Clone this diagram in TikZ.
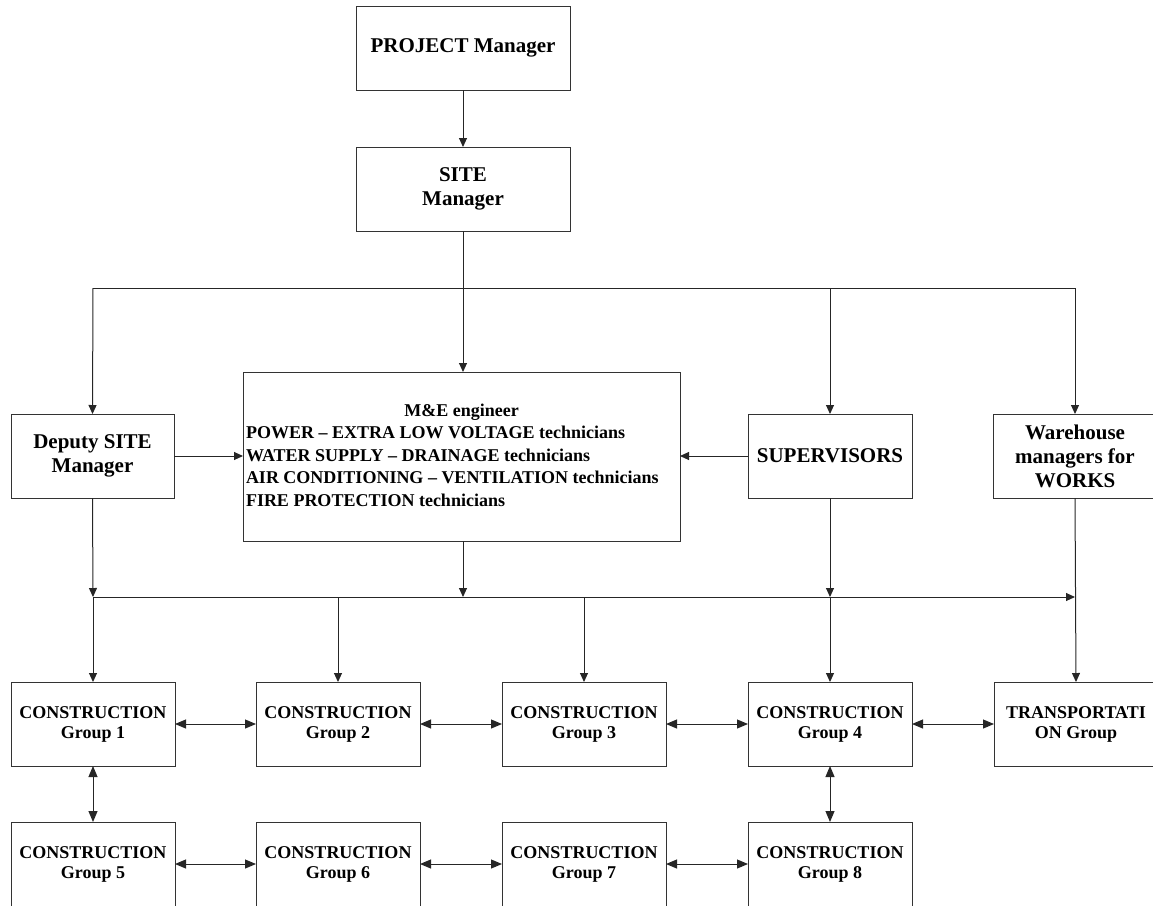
\documentclass[tikz,border=0pt]{standalone}
\usepackage{fontspec}
\setmainfont{Liberation Serif}
\usetikzlibrary{arrows.meta}
\begin{document}
\begin{tikzpicture}[x=1pt,y=-1pt,
  box/.style={draw=black!80,line width=1pt,minimum width=164pt,minimum height=84pt,inner sep=2pt,outer sep=0pt,align=center},
  bigtxt/.style={font=\bfseries\fontsize{21}{24}\selectfont},
  smtxt/.style={font=\bfseries\fontsize{18}{20}\selectfont},
  conn/.style={draw=black!85,line width=1pt},
  arr/.style={conn,-{Triangle[length=9pt,width=8pt]}},
  darr/.style={conn,{Triangle[length=11pt,width=9pt]}-{Triangle[length=11pt,width=9pt]}}]
\useasboundingbox (0,0) rectangle (1153,905);
\clip (0,0) rectangle (1153,905);
% top
\node[box,bigtxt,minimum width=214pt] (pm) at (463,48) {PROJECT Manager};
\node[box,bigtxt,minimum width=214pt] (site) at (463,189) {SITE\\Manager};
% middle
\node[box,bigtxt,minimum width=163pt] (dep) at (92.5,456) {Deputy SITE\\Manager};
\node[box,minimum width=437pt,minimum height=169pt,font=\bfseries\fontsize{18}{22.5}\selectfont] (me) at (461.5,456.5)
  {\begin{tabular}{@{}l@{}}\makebox[431pt]{M\&E engineer}\\
   POWER – EXTRA LOW VOLTAGE technicians\\
   WATER SUPPLY – DRAINAGE technicians\\
   AIR CONDITIONING – VENTILATION technicians\\
   FIRE PROTECTION technicians\end{tabular}};
\node[box,bigtxt] (sup) at (830,456) {SUPERVISORS};
\node[box,bigtxt] (wh) at (1075,456) {Warehouse\\managers for\\WORKS};
% row 1
\node[box,smtxt] (g1) at (93,724) {CONSTRUCTION\\Group 1};
\node[box,smtxt] (g2) at (338,724) {CONSTRUCTION\\Group 2};
\node[box,smtxt] (g3) at (584,724) {CONSTRUCTION\\Group 3};
\node[box,smtxt] (g4) at (830,724) {CONSTRUCTION\\Group 4};
\node[box,smtxt] (tr) at (1076,724) {TRANSPORTATI\\ON Group};
% row 2
\node[box,smtxt] (g5) at (93,864) {CONSTRUCTION\\Group 5};
\node[box,smtxt] (g6) at (338,864) {CONSTRUCTION\\Group 6};
\node[box,smtxt] (g7) at (584,864) {CONSTRUCTION\\Group 7};
\node[box,smtxt] (g8) at (830,864) {CONSTRUCTION\\Group 8};
% coordinates
\coordinate (tL) at (93,288);
\coordinate (tR) at (1075,288);
\coordinate (bL) at (93,597);
\coordinate (bR) at (1075,597);
% connectors
\draw[arr] (pm.south) -- (site.north);
\draw[conn] (site.south) -- (site.south |- tL);
\draw[conn] (tL) -- (tR);
\draw[arr] (tL) -- (dep.north);
\draw[arr] (site.south |- tL) -- (site.south |- me.north);
\draw[arr] (sup.north |- tL) -- (sup.north);
\draw[arr] (tR) -- (wh.north);
\draw[arr] (dep.east) -- (dep.east -| me.west);
\draw[arr] (sup.west) -- (sup.west -| me.east);
\draw[arr] (dep.south) -- (bL);
\draw[arr] (site.south |- me.south) -- (site.south |- bL);
\draw[arr] (sup.south) -- (sup.south |- bL);
\draw[arr] (bL) -- (bR);
\draw[arr] (wh.south) -- (tr.north);
\draw[arr] (bL) -- (g1.north);
\draw[arr] (g2.north |- bL) -- (g2.north);
\draw[arr] (g3.north |- bL) -- (g3.north);
\draw[arr] (g4.north |- bL) -- (g4.north);
% bidirectional
\draw[darr] (g1.east) -- (g2.west);
\draw[darr] (g2.east) -- (g3.west);
\draw[darr] (g3.east) -- (g4.west);
\draw[darr] (g4.east) -- (tr.west);
\draw[darr] (g5.east) -- (g6.west);
\draw[darr] (g6.east) -- (g7.west);
\draw[darr] (g7.east) -- (g8.west);
\draw[darr] (g1.south) -- (g5.north);
\draw[darr] (g4.south) -- (g8.north);
\end{tikzpicture}
\end{document}
